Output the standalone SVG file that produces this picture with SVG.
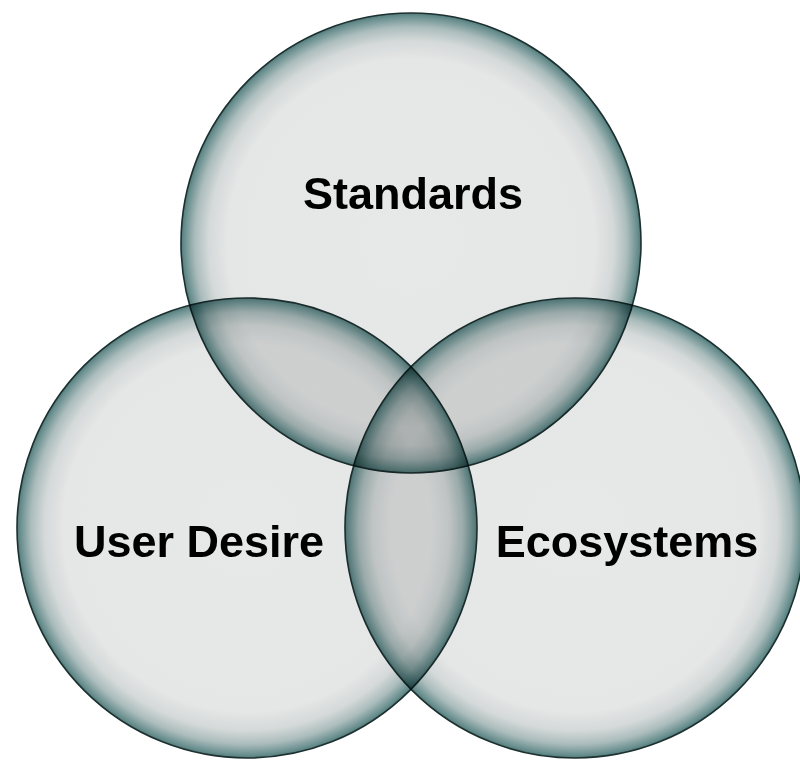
<svg xmlns="http://www.w3.org/2000/svg" width="800" height="762" viewBox="0 0 800 762">
  <defs>
    <radialGradient id="bubble" cx="0.5" cy="0.5" r="0.5">
      <stop offset="0" stop-color="#e7e8e8"/>
      <stop offset="0.80" stop-color="#e5e6e6"/>
      <stop offset="0.88" stop-color="#d5d9d9"/>
      <stop offset="0.94" stop-color="#abbcbc"/>
      <stop offset="0.985" stop-color="#6a8f8f"/>
      <stop offset="1" stop-color="#527a7a"/>
    </radialGradient>
    <style>
      .bubble { fill: url(#bubble); stroke: #1d3030; stroke-width: 1.6; mix-blend-mode: multiply; }
      .label { font-family: "Liberation Sans", Arial, Helvetica, sans-serif; font-weight: bold; font-size: 45px; fill: #000; text-anchor: middle; }
    </style>
  </defs>
  <rect x="0" y="0" width="800" height="762" fill="#ffffff"/>
  <text class="label" x="690" y="-13" style="font-size:56px">g</text>
  <g id="node-standards">
    <circle class="bubble" cx="411" cy="243" r="230"/>
  </g>
  <g id="node-user-desire">
    <circle class="bubble" cx="247" cy="528" r="230"/>
  </g>
  <g id="node-ecosystems">
    <circle class="bubble" cx="575" cy="528" r="230"/>
  </g>
  <g id="labels">
    <text class="label" x="413" y="209">Standards</text>
    <text class="label" x="199" y="557">User Desire</text>
    <text class="label" x="627" y="557">Ecosystems</text>
  </g>
  <g id="connectors"></g>
</svg>
